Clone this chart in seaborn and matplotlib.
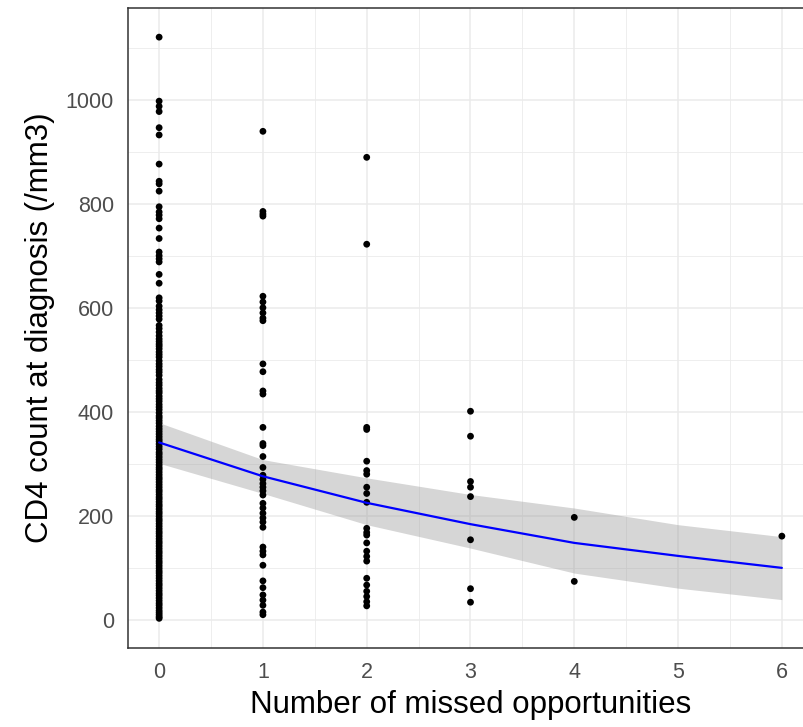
import pandas as pd
import matplotlib
matplotlib.use("Agg")
import matplotlib.pyplot as plt
import seaborn as sns

# CD4 counts, one list per number of missed opportunities
cd4_0 = [1120, 997, 987, 977, 946, 932, 876, 843, 838, 824, 794, 784, 778, 771,
         753, 733, 707, 700, 694, 688, 664, 647, 619, 613, 603, 596, 590, 584,
         578, 566, 560, 553, 546, 540, 535, 530, 526, 521, 515, 510, 505, 498,
         492, 487, 481, 476, 470, 462, 456, 451, 445, 440, 436, 430, 425, 420,
         414, 409, 404, 398, 392, 388, 383, 378, 372, 367, 362, 357, 352, 347,
         343, 338, 333, 328, 322, 318, 313, 308, 303, 298, 293, 289, 284, 279,
         274, 270, 265, 260, 255, 250, 246, 241, 236, 232, 227, 222, 218, 213,
         208, 204, 199, 194, 190, 185, 180, 175, 170, 166, 161, 156, 151, 147,
         142, 137, 132, 128, 123, 118, 113, 109, 104, 99, 94, 90, 85, 80, 75,
         70, 66, 61, 56, 51, 47, 42, 37, 32, 28, 23, 18, 14, 10, 6, 3]
cd4_1 = [939, 785, 780, 776, 622, 611, 600, 590, 580, 575, 492, 477, 440, 434,
         370, 339, 335, 314, 293, 278, 270, 262, 255, 248, 240, 224, 215, 205,
         196, 188, 178, 140, 132, 125, 105, 75, 62, 48, 38, 28, 15, 10]
cd4_2 = [889, 722, 370, 366, 305, 287, 280, 255, 243, 226, 176, 168, 163, 148,
         132, 122, 113, 80, 67, 55, 45, 35, 27]
cd4_3 = [401, 353, 266, 255, 237, 154, 60, 34]
cd4_4 = [197, 74]
cd4_6 = [161]

# fitted curve and its confidence band
fit_x = [0, 1, 2, 3, 4, 5, 6]
fit_y = [341, 276, 225, 184, 148, 123, 100]
fit_lo = [301, 243, 183, 138, 90, 61, 39]
fit_hi = [379, 308, 273, 241, 215, 183, 160]

groups = {0: cd4_0, 1: cd4_1, 2: cd4_2, 3: cd4_3, 4: cd4_4, 6: cd4_6}
df = pd.DataFrame([(k, v) for k, vals in groups.items() for v in vals],
                  columns=["missed", "cd4"])
fit = pd.DataFrame({"missed": fit_x, "cd4": fit_y, "lo": fit_lo, "hi": fit_hi})

sns.set_style("white")
plt.rcParams["font.family"] = ["Liberation Sans", "DejaVu Sans"]

fig = plt.figure(figsize=(8.04, 7.27), dpi=100)
ax = fig.add_axes([128 / 804, 79 / 727, 685 / 804, 640 / 727])

ax.fill_between(fit["missed"], fit["lo"], fit["hi"], color="#999999",
                alpha=0.4, linewidth=0, zorder=2)
sns.scatterplot(data=df, x="missed", y="cd4", color="black", s=24,
                edgecolor="none", ax=ax, zorder=3)
sns.lineplot(data=fit, x="missed", y="cd4", color="blue", linewidth=1.6,
             ax=ax, zorder=4)

ax.set_xticks(range(0, 7))
ax.set_yticks(range(0, 1001, 200))
ax.set_xticks([x + 0.5 for x in range(-1, 7)], minor=True)
ax.set_yticks(range(-100, 1201, 200), minor=True)
ax.set_xlim(-0.3, 6.3)
ax.set_ylim(-54, 1176)
ax.grid(True, which="major", color="#EBEBEB", linewidth=1.1)
ax.grid(True, which="minor", color="#EBEBEB", linewidth=0.6)
ax.set_axisbelow(True)

for sp in ax.spines.values():
    sp.set_color("#333333")
    sp.set_linewidth(1.1)

ax.tick_params(which="major", length=6, width=1.1, color="#333333",
               labelsize=15.5, labelcolor="#4D4D4D", pad=4)
ax.tick_params(which="minor", length=0)

ax.set_xlabel("Number of missed opportunities", fontsize=22.5, color="black",
              labelpad=5)
ax.set_ylabel("CD4 count at diagnosis (/mm3)", fontsize=22.5, color="black",
              labelpad=8)

fig.savefig("out.png", dpi=100)
